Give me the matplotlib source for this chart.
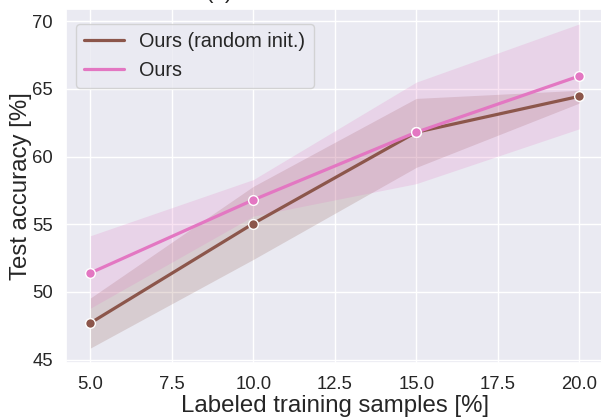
import matplotlib
matplotlib.use("Agg")
import matplotlib.pyplot as plt
from matplotlib.lines import Line2D
import seaborn as sns

# Daten
samples = [5, 10, 15, 20]

rand_mean = [47.7, 55.05, 61.8, 64.45]
rand_low = [45.85, 52.4, 59.2, 63.95]
rand_high = [49.55, 57.8, 64.3, 64.9]

ours_mean = [51.4, 56.8, 61.8, 65.95]
ours_low = [48.8, 55.6, 58.0, 62.05]
ours_high = [54.15, 58.3, 65.5, 69.8]

labels = ["Ours (random init.)", "Ours"]
colors = ["#8c564b", "#e377c2"]

sns.set_theme(style="darkgrid")
plt.rcParams["font.family"] = ["Liberation Sans", "DejaVu Sans"]

fig = plt.figure(figsize=(6.01, 4.17), dpi=100)
ax = fig.add_axes([66 / 601, 1 - 362.5 / 417, (603.5 - 66) / 601, (362.5 - 9) / 417])

series = [(rand_mean, rand_low, rand_high), (ours_mean, ours_low, ours_high)]
for (m, lo, hi), c in zip(series, colors):
    ax.fill_between(samples, lo, hi, color=c, alpha=0.2, linewidth=0)
    ax.plot(samples, m, color=c, lw=2.3, marker="o", ms=7,
            markeredgecolor="white", markeredgewidth=1)

ax.set_xlim(4.25, 20.75)
ax.set_ylim(44.78, 70.91)
ax.set_xticks([5, 7.5, 10, 12.5, 15, 17.5, 20])
ax.set_xticklabels(["5.0", "7.5", "10.0", "12.5", "15.0", "17.5", "20.0"])
ax.set_yticks([45, 50, 55, 60, 65, 70])
ax.tick_params(labelsize=13.3)
ax.set_xlabel("Labeled training samples [%]", fontsize=17.3, labelpad=2)
ax.set_ylabel("Test accuracy [%]", fontsize=17.3, labelpad=0)

# Legende nur mit Linien, ohne Marker
handles = [Line2D([], [], color=c, lw=2.3) for c in colors]
ax.legend(handles, labels, loc="upper left", fontsize=14.3,
          bbox_to_anchor=(0.0, 0.985))

fig.text(219 / 601, 1 - 3 / 417, "(a)", ha="center", va="bottom", fontsize=16)

fig.savefig("out.png", dpi=100)
